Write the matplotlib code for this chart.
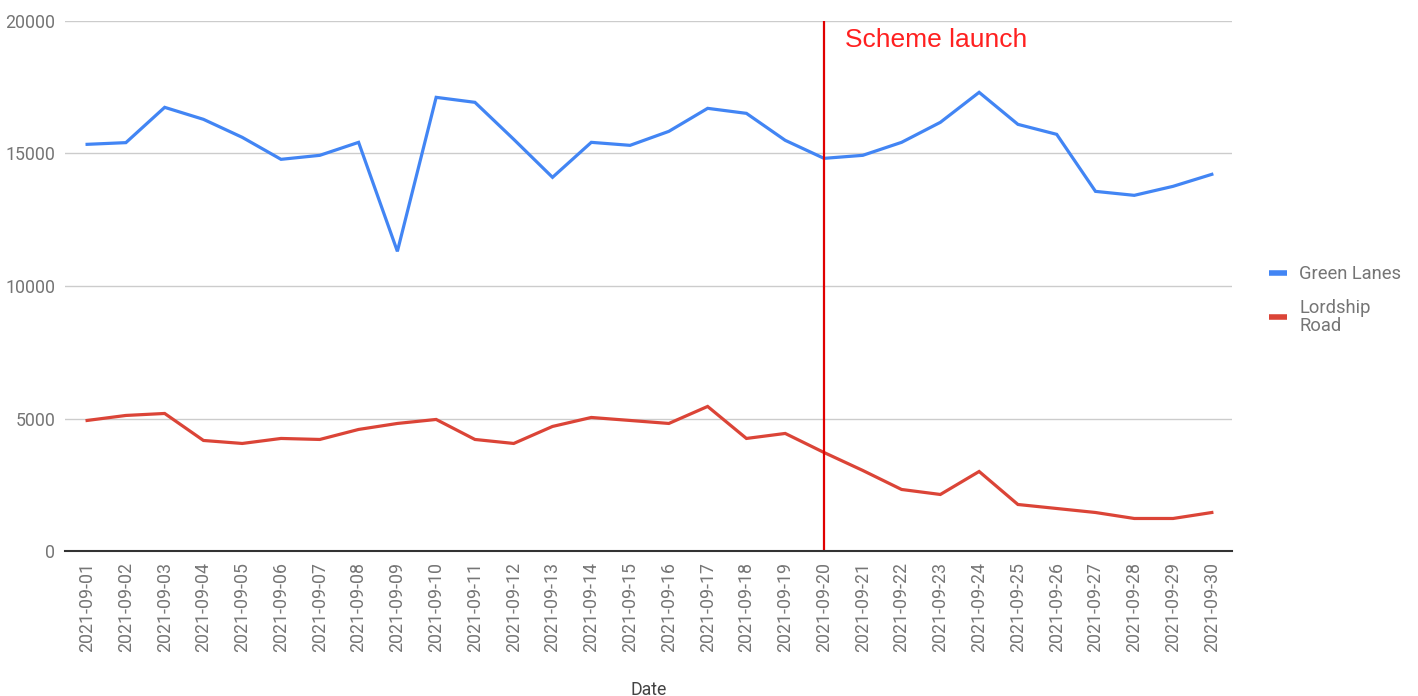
import matplotlib
matplotlib.use("Agg")
import matplotlib.pyplot as plt
from matplotlib.lines import Line2D

dates = [f"2021-09-{d:02d}" for d in range(1, 31)]
green_lanes = [15346, 15410, 16742, 16289, 15610, 14780, 14931, 15421, 11307, 17119,
               16931, 15535, 14101, 15421, 15308, 15836, 16704, 16515, 15497, 14817,
               14931, 15421, 16176, 17308, 16100, 15723, 13571, 13421, 13761, 14214]
lordship_road = [4926, 5115, 5190, 4171, 4058, 4247, 4209, 4587, 4813, 4964,
                 4209, 4058, 4700, 5039, 4926, 4813, 5455, 4247, 4436, 3718,
                 3039, 2322, 2133, 3001, 1755, 1604, 1453, 1227, 1227, 1453]
y_ticks = [0, 5000, 10000, 15000, 20000]
launch_date = "2021-09-20"
launch_label = "Scheme launch"

plt.rcParams['font.family'] = ['Roboto', 'DejaVu Sans']

fig = plt.figure(figsize=(14.18, 6.96), dpi=100)
ax = fig.add_axes([65/1418, 1-551/696, (1232-65)/1418, (551-21)/696])

x = list(range(len(dates)))
blue = "#4285F4"
red = "#DB4437"
ax.plot(x, green_lanes, color=blue, lw=2.3, solid_joinstyle='miter', zorder=3)
ax.plot(x, lordship_road, color=red, lw=2.3, solid_joinstyle='miter', zorder=3)

li = dates.index(launch_date)
ax.axvline(li, color="#e00000", lw=1.6, zorder=4)
ax.text(li + 0.53, 19270, launch_label, color="#ff2020", fontsize=19,
        family=['Liberation Sans', 'DejaVu Sans'], va='center', ha='left')

ax.set_xlim(-0.57, 29.52)
ax.set_ylim(0, 20000)
ax.set_yticks(y_ticks)
ax.set_yticklabels([str(v) for v in y_ticks])
ax.set_xticks(x)
ax.set_xticklabels(dates, rotation=90)
ax.tick_params(axis='both', length=0, labelsize=12.8, colors="#757575")
ax.tick_params(axis='x', pad=8)
ax.tick_params(axis='y', pad=7)
ax.grid(axis='y', color="#cccccc", lw=1)
ax.set_axisbelow(True)
for s in ['top', 'right', 'left']:
    ax.spines[s].set_visible(False)
ax.spines['bottom'].set_color("#333333")
ax.spines['bottom'].set_linewidth(1.5)
ax.spines['bottom'].set_zorder(5)

ax.set_xlabel("Date", fontsize=12.8, color="#444444")
ax.xaxis.set_label_coords(0.5, -0.245)

handles = [Line2D([], [], color=blue, lw=4, solid_capstyle='butt'),
           Line2D([], [], color=red, lw=4, solid_capstyle='butt')]
leg = fig.legend(handles, ["Green Lanes", "Lordship\nRoad"], loc='upper left',
                 bbox_to_anchor=(1269/1418, 1-265/696), frameon=False,
                 fontsize=13.2, handlelength=1.0, handletextpad=0.65,
                 labelspacing=0.85, borderaxespad=0, borderpad=0)
for t in leg.get_texts():
    t.set_color("#757575")
    t.set_linespacing(1.0)

fig.savefig("out.png", dpi=100)
